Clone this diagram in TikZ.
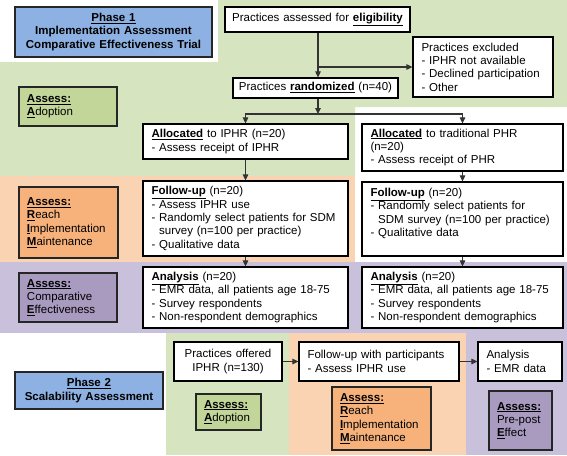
\documentclass[tikz,border=0pt]{standalone}
\usepackage{fontspec}
\setmainfont{Liberation Sans}
\usetikzlibrary{arrows.meta}
\definecolor{greenbg}{HTML}{D6E4BF}
\definecolor{orangebg}{HTML}{F9D3B2}
\definecolor{purplebg}{HTML}{C9C0DC}
\definecolor{greenbox}{HTML}{C2D699}
\definecolor{orangebox}{HTML}{F7B27C}
\definecolor{purplebox}{HTML}{A99BC0}
\definecolor{bluebox}{HTML}{8DB1E2}
\begin{document}
\begin{tikzpicture}[x=1pt,y=-1pt,
  every node/.style={font=\fontsize{11.5}{13.4}\selectfont},
  box/.style={draw=black, line width=1.2pt, fill=white, inner xsep=8.5pt, inner ysep=2pt, align=left},
  cbox/.style={box, inner xsep=2pt, align=center},
  abox/.style={draw=black!85, line width=1.3pt, inner xsep=8pt, inner ysep=2pt, align=left},
  pbox/.style={draw=black!85, line width=1.3pt, fill=bluebox, inner xsep=3.5pt, inner ysep=2pt, align=center, font=\fontsize{11.5}{13.4}\selectfont\bfseries},
  arr/.style={draw=black!80, line width=1.1pt, -{Triangle[length=6pt,width=5.5pt]}}]
% backgrounds
\fill[white] (0,0) rectangle (567,455);
\useasboundingbox (0,0) rectangle (567,455);
\fill[greenbg] (218,0) -- (567,0) -- (567,107) -- (355,107) -- (355,176) -- (0,176) -- (0,62) -- (218,62) -- cycle;
\fill[orangebg] (0,176) rectangle (355,262);
\fill[purplebg] (0,262) rectangle (567,333);
\fill[greenbg] (166,333) rectangle (289,455);
\fill[orangebg] (289,333) rectangle (466,455);
\fill[purplebg] (466,333) rectangle (567,455);
% phase boxes
\node[pbox, text width=190pt, minimum height=50pt] (p1) at (113.5,32) {\underline{Phase 1}\\Implementation Assessment\\Comparative Effectiveness Trial};
\node[pbox, text width=141pt, minimum height=37pt] (p2) at (89,390.5) {\underline{Phase 2}\\Scalability Assessment};
% flow boxes phase 1
\node[cbox, text width=181pt, minimum height=25pt] (elig) at (317.5,19.5) {Practices assessed for \underline{\textbf{eligibility}}};
\node[box, text width=123pt, minimum height=60pt] (excl) at (483,67) {Practices excluded\\- IPHR not available\\- Declined participation\\- Other};
\node[cbox, text width=161pt, minimum height=20pt] (rand) at (315.5,88) {Practices \underline{\textbf{randomized}} (n=40)};
\node[box, text width=188pt, minimum height=35pt] (a1) at (245.5,141.5) {\underline{\textbf{Allocated}} to IPHR (n=20)\\- Assess receipt of IPHR};
\node[box, text width=184pt, minimum height=47pt] (a2) at (462.5,147.5) {\underline{\textbf{Allocated}} to traditional PHR\\(n=20)\\- Assess receipt of PHR};
\node[box, text width=188pt, minimum height=75pt] (f1) at (245.5,218.5) {\underline{\textbf{Follow-up}} (n=20)\\- Assess IPHR use\\- Randomly select patients for SDM\\\phantom{- }survey (n=100 per practice)\\- Qualitative data};
\node[box, text width=184pt, minimum height=74pt] (f2) at (462.5,219) {\underline{\textbf{Follow-up}} (n=20)\\- Randomly select patients for\\\phantom{- }SDM survey (n=100 per practice)\\- Qualitative data\\\mbox{}};
\node[box, text width=188pt, minimum height=61pt] (n1) at (245.5,297.5) {\underline{\textbf{Analysis}} (n=20)\\- EMR data, all patients age 18-75\\- Survey respondents\\- Non-respondent demographics};
\node[box, text width=184pt, minimum height=61pt] (n2) at (462.5,297.5) {\underline{\textbf{Analysis}} (n=20)\\- EMR data, all patients age 18-75\\- Survey respondents\\- Non-respondent demographics};
% flow boxes phase 2
\node[cbox, text width=104pt, minimum height=39pt] (off) at (228,361.5) {Practices offered\\IPHR (n=130)};
\node[box, text width=143pt, minimum height=39pt] (fu2) at (379,361.5) {Follow-up with participants\\- Assess IPHR use};
\node[box, text width=67pt, minimum height=39pt] (an2) at (520,361.5) {Analysis\\- EMR data};
% assess boxes
\node[abox, fill=greenbox, text width=82pt, minimum height=39pt] (s1) at (68,106.5) {\underline{\textbf{Assess:}}\\\underline{\textbf{A}}doption};
\node[abox, fill=orangebox, text width=83pt, minimum height=71pt] (s2) at (68.5,222.5) {\underline{\textbf{Assess:}}\\\underline{\textbf{R}}each\\\underline{\textbf{I}}mplementation\\\underline{\textbf{M}}aintenance};
\node[abox, fill=purplebox, text width=82pt, minimum height=49pt] (s3) at (68,297.5) {\underline{\textbf{Assess:}}\\Comparative\\\underline{\textbf{E}}ffectiveness};
\node[abox, fill=greenbox, text width=49pt, minimum height=36pt] (s4) at (228.5,412) {\underline{\textbf{Assess:}}\\\underline{\textbf{A}}doption};
\node[abox, fill=orangebox, text width=83pt, minimum height=63pt] (s5) at (381.5,418.5) {\underline{\textbf{Assess:}}\\\underline{\textbf{R}}each\\\underline{\textbf{I}}mplementation\\\underline{\textbf{M}}aintenance};
\node[abox, fill=purplebox, text width=47pt, minimum height=59pt] (s6) at (520.5,420.5) {\underline{\textbf{Assess:}}\\Pre-post\\\underline{\textbf{E}}ffect};
% connectors
\coordinate (sp) at (318,114);
\draw[arr] (elig.south -| sp) -- (rand.north -| sp);
\draw[arr] (sp |- excl.west) -- (excl.west);
\draw[arr] (rand.south -| sp) -- (sp);
\draw[arr] (sp) -| (a1.north);
\draw[arr] (sp) -| (a2.north);
\draw[arr] (a1.south) -- (f1.north);
\draw[arr] (a2.south) -- (f2.north);
\draw[arr] (f1.south) -- (n1.north);
\draw[arr] (f2.south) -- (n2.north);
\draw[arr] (off.east) -- (fu2.west);
\draw[arr] (fu2.east) -- (an2.west);
\end{tikzpicture}
\end{document}
